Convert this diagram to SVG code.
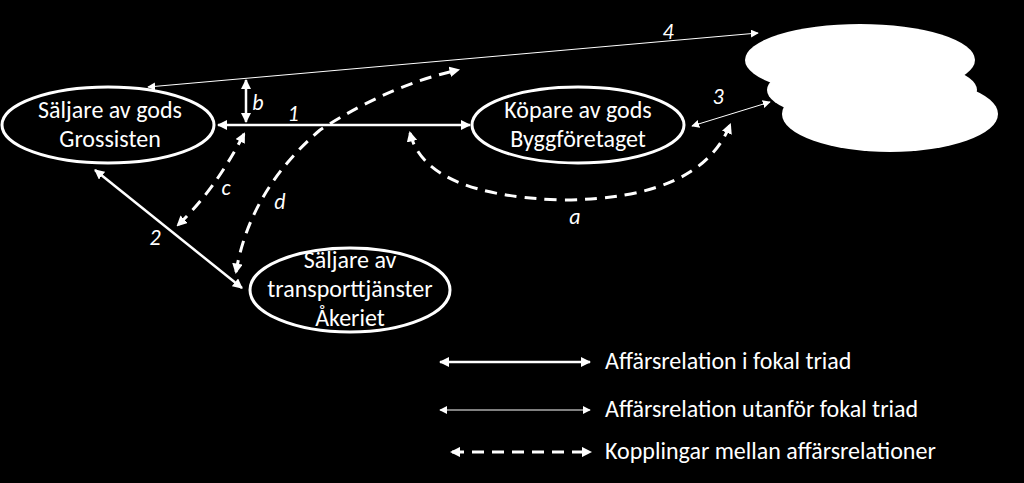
<svg xmlns="http://www.w3.org/2000/svg" width="1024" height="483" viewBox="0 0 1024 483">
<defs>
<marker id="ah" viewBox="0 0 10 10" refX="9" refY="5" markerWidth="4" markerHeight="4" orient="auto-start-reverse" markerUnits="strokeWidth"><path d="M0,0L10,5L0,10z" fill="#fff"/></marker>
<marker id="ahs" viewBox="0 0 10 10" refX="9" refY="5" markerWidth="8" markerHeight="8" orient="auto-start-reverse" markerUnits="strokeWidth"><path d="M0,0L10,5L0,10z" fill="#fff"/></marker>
<marker id="ahd" viewBox="0 0 10 10" refX="8" refY="5" markerWidth="3.5" markerHeight="3.5" orient="auto-start-reverse" markerUnits="strokeWidth"><path d="M0,0L10,5L0,10z" fill="#fff"/></marker>
</defs>
<style>
.n{fill:#000;stroke:#fff;stroke-width:3}
.t{font-family:Calibri,Carlito,"Liberation Sans",sans-serif;font-size:24px;fill:#fff;text-anchor:middle}
.l{font-family:Calibri,Carlito,"Liberation Sans",sans-serif;font-size:22px;fill:#fff;font-style:italic;text-anchor:middle}
.lg{font-family:Calibri,Carlito,"Liberation Sans",sans-serif;font-size:24px;fill:#fff}
.s{stroke:#fff;stroke-width:2.5;fill:none;marker-start:url(#ah);marker-end:url(#ah)}
.th{stroke:#fff;stroke-width:1;fill:none;marker-start:url(#ahs);marker-end:url(#ahs)}
.d{stroke:#fff;stroke-width:3;fill:none;stroke-dasharray:12 8;marker-start:url(#ahd);marker-end:url(#ahd)}
</style>
<rect width="1024" height="483" fill="#000"/>
<g id="cloud">
<ellipse cx="860" cy="60" rx="115" ry="36" fill="#fff"/>
<ellipse cx="872" cy="90" rx="105" ry="32" fill="#fff"/>
<ellipse cx="890" cy="114" rx="108" ry="38" fill="#fff"/>
</g>
<g id="connectors">
<line class="s" x1="218" y1="125" x2="470" y2="125"/>
<line class="s" x1="95" y1="170" x2="242" y2="288"/>
<line class="th" x1="148" y1="87" x2="758" y2="33"/>
<line class="th" x1="692" y1="126" x2="770" y2="102"/>
<line x1="246" y1="80" x2="246" y2="122" stroke="#fff" stroke-width="2.5" marker-start="url(#ah)" marker-end="url(#ah)"/>
<path class="d" d="M244,134 Q215,190 178,225"/>
<path class="d" d="M236,272 Q250,190 320,130 Q390,85 458,70"/>
<path class="d" d="M410,133 Q425,195 560,200 Q700,200 730,125"/>
<line class="s" x1="440" y1="362" x2="590" y2="362"/>
<line class="th" x1="440" y1="410" x2="590" y2="410"/>
<path d="M452,452 L590,452" stroke="#fff" stroke-width="3" fill="none" stroke-dasharray="12 8" marker-start="url(#ahd)" marker-end="url(#ahd)"/>
</g>
<g id="n1"><ellipse class="n" cx="108" cy="125" rx="106" ry="38"/><text class="t" x="110" y="118">Säljare av gods</text><text class="t" x="110" y="147">Grossisten</text></g>
<g id="n2"><ellipse class="n" cx="578" cy="125" rx="106" ry="38"/><text class="t" x="578" y="118">Köpare av gods</text><text class="t" x="578" y="147">Byggföretaget</text></g>
<g id="n3"><ellipse class="n" cx="350" cy="290" rx="100" ry="42"/><text class="t" x="350" y="268">Säljare av</text><text class="t" x="350" y="297">transporttjänster</text><text class="t" x="350" y="326">Åkeriet</text></g>
<g id="labels">
<text class="l" x="293" y="121">1</text>
<text class="l" x="155" y="245">2</text>
<text class="l" x="718" y="104">3</text>
<text class="l" x="668" y="39">4</text>
<text class="l" x="575" y="224">a</text>
<text class="l" x="258" y="110">b</text>
<text class="l" x="226" y="195">c</text>
<text class="l" x="280" y="209">d</text>
<text class="lg" x="605" y="369">Affärsrelation i fokal triad</text>
<text class="lg" x="605" y="417">Affärsrelation utanför fokal triad</text>
<text class="lg" x="605" y="459">Kopplingar mellan affärsrelationer</text>
</g>
</svg>
